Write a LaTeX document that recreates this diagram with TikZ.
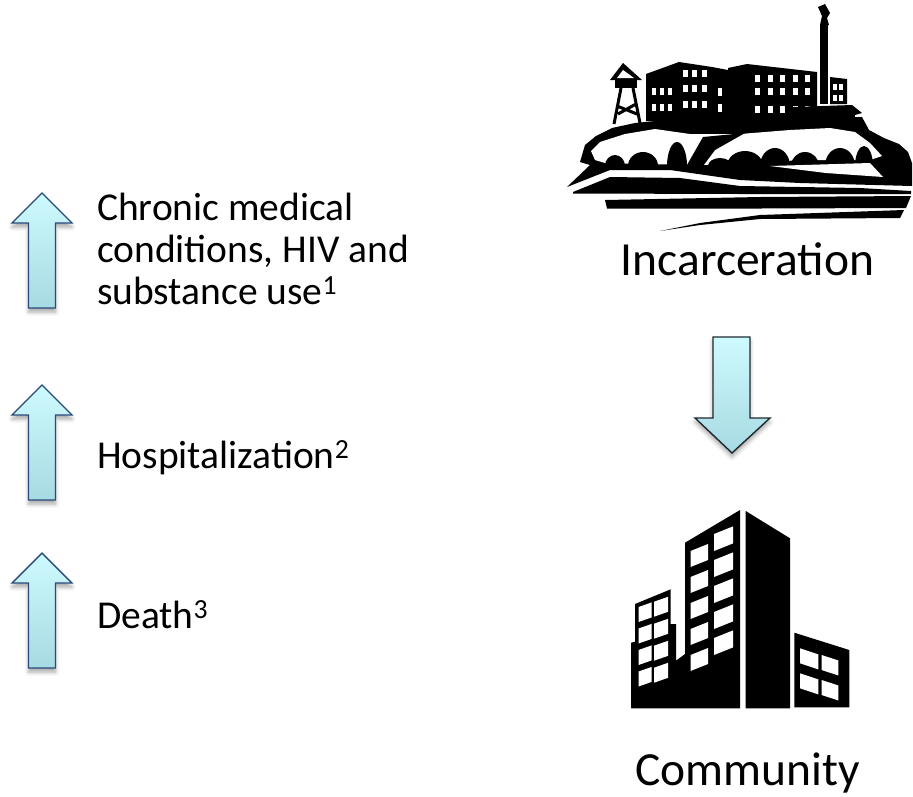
\documentclass[tikz,border=0pt]{standalone}
\usepackage{fontspec}
\setmainfont{Carlito}
\usetikzlibrary{shadows.blur}
\definecolor{arrowEdge}{HTML}{2A4A7A}
\definecolor{arrowTop}{HTML}{CDFAFE}
\definecolor{arrowBottom}{HTML}{A8DAE2}
\definecolor{darkEdge}{HTML}{1E2A30}
% white window pane: left x, right x, top y, height, slope
\newcommand{\bldwin}[5]{\fill[white] (#1,{#3}) -- (#2,{#3+#5*(#2-#1)}) -- (#2,{#3+#5*(#2-#1)+#4}) -- (#1,{#3+#4}) -- cycle;}

\begin{document}
\begin{tikzpicture}[x=1pt, y=-1pt, every node/.style={font=\fontsize{39.5}{42}\selectfont, inner sep=0pt}]
\tikzset{
  upArrow/.style={draw=arrowEdge, line width=1.4pt, top color=arrowTop, bottom color=arrowBottom,
    blur shadow={shadow xshift=0pt, shadow yshift=-4pt, shadow blur radius=4pt, shadow opacity=35}},
  downArrow/.style={upArrow, draw=darkEdge},
  bigLabel/.style={font=\fontsize{47.5}{52}\selectfont}
}
\useasboundingbox (0,0) rectangle (913,796);

% rising arrows on the left
\foreach \ty in {193,385,553}
  \path[upArrow] (42,\ty) -- (72,{\ty+30}) -- (55.5,{\ty+30}) -- (55.5,{\ty+115})
    -- (28.5,{\ty+115}) -- (28.5,{\ty+30}) -- (12,{\ty+30}) -- cycle;

% base of a multi-line node sits on its last line
\node[anchor=base west, align=left] (chronic) at (97,304) {Chronic medical\\conditions, HIV and\\substance use\textsuperscript{1}};
\node[anchor=base west] (hosp) at (97,468) {Hospitalization\textsuperscript{2}};
\node[anchor=base west] (death) at (97,628) {Death\textsuperscript{3}};

% prison on the island
\begin{scope}
  % hill
  \fill (580,162) -- (585,145) -- (596,136) -- (612,128) -- (635,123) -- (665,120) -- (700,119)
    -- (745,122) -- (790,119) -- (862,117) -- (869,130) -- (884,138) -- (899,144) -- (908,152)
    -- (912,163) -- (912,186) -- (800,183) -- (740,180) -- (670,170) -- (610,170) -- (567,187)
    -- (590,165) -- cycle;
  \fill[white] (591,151) -- (600,142) -- (625,134) -- (655,129) -- (690,134) -- (740,134)
    -- (790,130) -- (830,128) -- (855,132) -- (870,143) -- (882,156) -- (870,160) -- (800,160)
    -- (760,163) -- (700,165) -- (640,164) -- (605,163) -- (595,160) -- cycle;
  % bushes, kept inside the light band
  \begin{scope}
    \clip (585,100) rectangle (890,164);
    \foreach \bx/\rx/\ry in {615/10/11, 643/15/14, 677/10/24, 720/12/8, 745/18/15, 775/15/18, 805/14/14, 840/15/18, 864/9/20}
      \fill (\bx,166) ellipse [x radius=\rx, y radius=\ry];
  \end{scope}
  \fill (683,172) -- (703,137) -- (745,133) -- (715,150) -- (700,170) -- cycle;
  \fill[white] (770,166) -- (870,163) -- (883,177) -- (826,173) -- cycle;
  % water
  \fill (573,192) -- (610,177) -- (680,178) -- (740,186) -- (860,188) -- (911,191) -- (911,194)
    -- (740,194) -- (573,193.5) -- cycle;
  \fill (605,200) -- (760,197) -- (911,196) -- (906,208) -- (760,208.5) -- (607,208.5) -- cycle;
  \fill (660,231) -- (700,223) -- (760,215) -- (904,210) -- (900,218) -- (760,219) -- (700,225) -- cycle;
  % cell blocks
  \fill (646,74) -- (679,62) -- (712,67) -- (712,121) -- (646,121) -- cycle;
  \fill (712,67) -- (728,70) -- (728,121) -- (712,121) -- cycle;
  \fill (728,68) -- (747,64) -- (817,72) -- (817,123) -- (728,123) -- cycle;
  \foreach \wx in {652,660,668}
    \foreach \wy in {88,104}
      \fill[white] (\wx,\wy) rectangle ++(4,7);
  \foreach \wx in {683,692,702}
    \foreach \wy in {70,85,101}
      \fill[white] (\wx,\wy) rectangle ++(5,7);
  \foreach \wy in {88,104}
    \fill[white] (718,\wy) rectangle ++(4,8);
  \foreach \wx in {755,768,780,793,805}
    \foreach \wy in {75,88,106}
      \fill[white] (\wx,\wy) rectangle ++(5,7);
  % watchtower
  \fill (610,80) -- (623,63) -- (642,80) -- cycle;
  \fill[white] (617,78) -- (623,70) -- (634,78) -- cycle;
  \fill (615,80) rectangle (637,88);
  \draw[line width=3pt] (621,88) -- (614,124) (633,88) -- (640,123)
    (617,106) -- (637,114) (618,114) -- (636,104);
  % chimney and boiler house
  \fill (820,25) rectangle (828,104);
  \fill (818,7) -- (825,4) -- (830,13) -- (827,18) -- (829,25) -- (820,25) -- (822,16) -- cycle;
  \fill (830,77) -- (847,79) -- (847,104) -- (830,104) -- cycle;
  \foreach \wx in {833,839}
    \foreach \wy in {84,95}
      \fill[white] (\wx,\wy) rectangle ++(4,6);
  \fill (785,113) -- (793,107) -- (852,105) -- (862,113) -- (855,115) -- (854,123) -- (793,124)
    -- (792,115) -- cycle;
\end{scope}

\node[anchor=base, bigLabel] (incarc) at (747.5,275) {Incarceration};

\path[downArrow] (713,337) -- (750,337) -- (750,418) -- (770,418) -- (732,453) -- (695,418)
  -- (713,418) -- cycle;

% city block
\begin{scope}
  \fill (635,604) -- (670.7,589.3) -- (670.7,624) -- (676,624) -- (676,660.7) -- (685,654)
    -- (685,542.7) -- (740,510) -- (740,708.3) -- (631,708.3) -- (631,642.7) -- (635,641.7) -- cycle;
  \fill (745.7,511) -- (790,538.3) -- (790,708.3) -- (745.7,708.3) -- cycle;
  \fill (794.3,632.7) -- (849.3,650) -- (849.3,707.3) -- (794.3,707.3) -- cycle;
  \foreach \i in {0,...,4}{
    \bldwin{690.5}{708}{551+26*\i}{16}{-0.4}
    \bldwin{714}{733}{534+26*\i}{17}{-0.4}
  }
  \foreach \i in {0,...,3}{
    \bldwin{638.5}{651.5}{607+21.5*\i}{15}{-0.35}
    \bldwin{654}{668}{601.7+22*\i}{15}{-0.35}
  }
  \foreach \i in {0,1}{
    \bldwin{800}{818.3}{648.3+25*\i}{15}{0.33}
    \bldwin{821.7}{838.3}{655+25*\i}{15}{0.33}
  }
\end{scope}

\node[anchor=base, bigLabel] (community) at (747.5,785) {Community};
\end{tikzpicture}
\end{document}
